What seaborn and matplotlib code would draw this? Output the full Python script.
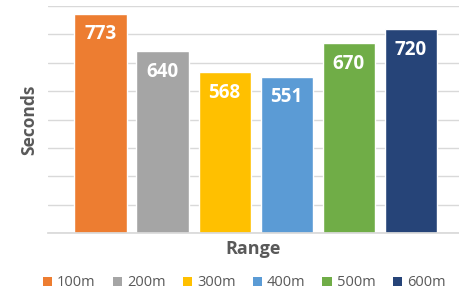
import matplotlib
matplotlib.use("Agg")
import matplotlib.pyplot as plt
import seaborn as sns
import pandas as pd
from matplotlib.patches import Patch

categories = ["100m", "200m", "300m", "400m", "500m", "600m"]
seconds = [773, 640, 568, 551, 670, 720]
colors = ["#ED7D31", "#A5A5A5", "#FFC000", "#5B9BD5", "#70AD47", "#264478"]

sns.set_theme(style="white")
plt.rcParams["font.family"] = ["Open Sans", "DejaVu Sans"]

df = pd.DataFrame({"Range": categories, "Seconds": seconds})

fig = plt.figure(figsize=(4.59, 2.93), dpi=100)
ax = fig.add_axes([47.5 / 459, 1 - 233 / 293, (459 - 47.5) / 459, (233 - 6) / 293])

sns.barplot(data=df, x="Range", y="Seconds", hue="Range", palette=colors,
            width=0.84, legend=False, ax=ax, saturation=1)

ax.set_ylim(0, 800)
ax.set_xlim(-0.855, 5.78)
ax.set_yticks(range(0, 801, 100))
ax.yaxis.grid(True, color="#D9D9D9", linewidth=1)
ax.set_axisbelow(True)
ax.tick_params(left=False, bottom=False, labelleft=False, labelbottom=False)
for s in ["top", "right", "left"]:
    ax.spines[s].set_visible(False)
ax.spines["bottom"].set_color("#D9D9D9")

for i, v in enumerate(seconds):
    ax.annotate(str(v), (i, v), xytext=(0, -15), textcoords="offset points",
                ha="center", va="center", color="white", fontsize=13.5,
                fontweight="bold")

ax.set_xlabel("Range", fontsize=13, fontweight="bold", color="#595959", labelpad=5)
ax.set_ylabel("Seconds", fontsize=12.5, fontweight="bold", color="#595959", labelpad=7)

handles = [Patch(facecolor=c, edgecolor="none") for c in colors]
fig.legend(handles, categories, loc="center", bbox_to_anchor=(0.532, 1 - 283 / 293),
           ncol=6, frameon=False, fontsize=10.5, handlelength=0.65, handleheight=0.65,
           handletextpad=0.35, columnspacing=1.15, labelcolor="#595959",
           borderaxespad=0, borderpad=0)

fig.savefig("out.png", dpi=100)
